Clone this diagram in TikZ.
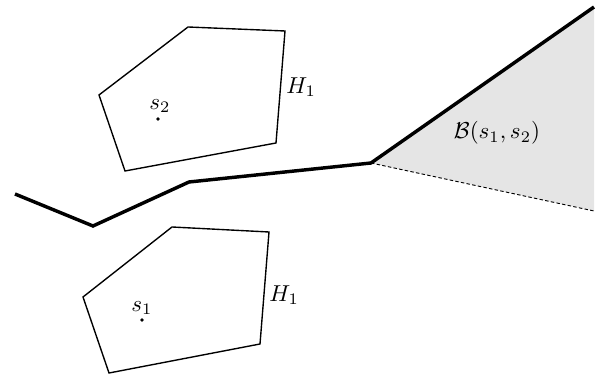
\documentclass[tikz,border=0pt]{standalone}
\begin{document}
\begin{tikzpicture}[x=0.435pt,y=-0.435pt,
  hull/.style={line width=0.6pt, line join=miter},
  bisector/.style={line width=1.5pt, line join=miter},
  dashedge/.style={line width=0.4pt, dash pattern=on 1.5pt off 1pt},
  region/.style={fill=black!10, draw=none},
  site/.style={circle, fill=black, inner sep=0pt, minimum size=1.6pt},
  lbl/.style={inner sep=0pt}]
\useasboundingbox (0,0) rectangle (603,375);
% shaded region
\coordinate (apex) at (371,163);
\coordinate (top) at (594,7);
\coordinate (bot) at (594,211);
\fill[region] (apex) -- (top) -- (bot) -- cycle;
\draw[dashedge] (apex) -- (bot);
% bisector
\coordinate (b1) at (15,194);
\coordinate (b2) at (93,226);
\coordinate (b3) at (189,182);
\draw[bisector] (b1) -- (b2) -- (b3) -- (apex) -- (top);
% upper hull
\draw[hull] (188,27) -- (285,31) -- (276,143) -- (125,171) -- (99,95) -- cycle;
% lower hull
\draw[hull] (172,227) -- (269,232) -- (260,344) -- (109,373) -- (83,297) -- cycle;
% sites
\node[site] (s2) at (158,119) {};
\node[site] (s1) at (142,320) {};
\node[lbl] (s2l) at (160,106) {$s_2$};
\node[lbl] (s1l) at (142,308) {$s_1$};
\node[lbl, anchor=west] (h1u) at (286,87) {$H_1$};
\node[lbl, anchor=west] (h1l) at (269,295) {$H_1$};
\node[lbl] (bl) at (497,133) {$\mathcal{B}(s_1,s_2)$};
\end{tikzpicture}
\end{document}
